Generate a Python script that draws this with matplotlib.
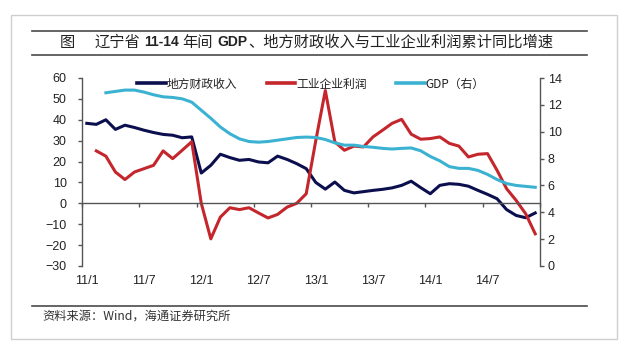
import numpy as np
import matplotlib
matplotlib.use("Agg")
import matplotlib.pyplot as plt
from matplotlib.lines import Line2D
from matplotlib.patches import Rectangle

W, H = 629, 352
CJK = ["Noto Sans CJK SC", "DejaVu Sans"]
LAT = ["Liberation Sans", "DejaVu Sans"]

# months 2011/1 .. 2014/12
MONTHS = [f"{y}/{m}" for y in range(11, 15) for m in range(1, 13)]
TICK_LABELS = ["11/1", "11/7", "12/1", "12/7", "13/1", "13/7", "14/1", "14/7"]
NAMES = ["地方财政收入", "工业企业利润", "GDP（右）"]

# 地方财政收入 (%, left axis)
FISCAL = [38.3, 37.8, 40.0, 35.4, 37.4, 36.3, 35.0, 33.9, 33.0, 32.6, 31.4, 31.8,
          14.5, 18.2, 23.5, 21.9, 20.6, 21.0, 19.8, 19.4, 22.6, 21.0, 19.0, 16.6,
          10.0, 6.8, 10.2, 6.2, 5.0, 5.6, 6.2, 6.7, 7.4, 8.6, 10.6, 7.5,
          4.6, 8.6, 9.4, 9.1, 8.2, 6.2, 4.3, 2.2, -3.0, -5.8, -6.9, -4.6]
# 工业企业利润 (%, left axis)
PROFIT = [np.nan, 25.1, 22.6, 15.0, 11.4, 15.0, 16.6, 18.2, 25.1, 21.4, 25.4, 29.5,
          0.0, -17.0, -6.6, -2.1, -3.0, -2.1, -4.6, -7.0, -5.3, -1.8, 0.0, 4.6,
          30.0, 54.0, 29.4, 25.4, 27.4, 27.0, 31.8, 35.0, 38.3, 40.2, 33.1, 30.7,
          31.0, 31.8, 28.7, 27.4, 22.2, 23.5, 23.8, 15.8, 7.0, 1.4, -5.0, -14.6]
# GDP (%, right axis)
GDP = [np.nan, np.nan, 12.9, 13.0, 13.1, 13.1, 12.95, 12.75, 12.6, 12.55, 12.45, 12.2,
       11.6, 11.0, 10.35, 9.85, 9.47, 9.27, 9.22, 9.27, 9.37, 9.47, 9.57, 9.6,
       9.57, 9.42, 9.17, 9.0, 9.0, 8.9, 8.84, 8.76, 8.71, 8.76, 8.79, 8.58,
       8.16, 7.83, 7.4, 7.27, 7.27, 7.12, 6.82, 6.44, 6.14, 6.0, 5.93, 5.86]

NAVY = "#0c0f4e"
RED = "#c4262b"
CYAN = "#3cb2d2"
INK = "#222222"


def fx(px):
    return px / W


def fy(py):
    return 1 - py / H


fig = plt.figure(figsize=(W / 100, H / 100), dpi=100)
fig.patch.set_facecolor("white")

# outer frame, title rules, footer rule
fig.patches.append(Rectangle((fx(11), fy(339)), fx(617) - fx(11), fy(15) - fy(339),
                             transform=fig.transFigure, fill=False,
                             edgecolor="#cfcfcf", linewidth=1.0))
for py in (30.5, 54.5, 306):
    fig.add_artist(Line2D([fx(32), fx(587)], [fy(py), fy(py)], color="#4a4a4a",
                          linewidth=1.2, transform=fig.transFigure))

# title: pieces laid out one after another (latin parts bold)
TY = fy(42.5)
pieces = [("图", CJK, "normal", 11, 19), ("辽宁省", CJK, "normal", 11, 4),
          ("11-14", LAT, "bold", 10, 4), ("年间", CJK, "normal", 11, 4),
          ("GDP", LAT, "bold", 10, 1),
          ("、地方财政收入与工业企业利润累计同比增速", CJK, "normal", 11, 0)]
renderer = fig.canvas.get_renderer()
cur = 60.0
for s, fam, wt, size, gap in pieces:
    t = fig.text(fx(cur), TY, s, family=fam, fontweight=wt, fontsize=size,
                 color=INK, ha="left", va="center")
    cur += t.get_window_extent(renderer).width + gap

fig.text(fx(42), fy(316), "资料来源：Wind，海通证券研究所", family=CJK,
         fontsize=8.8, color="#333333", ha="left", va="center")

ax = fig.add_axes([fx(82), fy(266), fx(540) - fx(82), fy(78) - fy(266)])
ax2 = ax.twinx()
x = np.arange(len(MONTHS))

ax.plot(x, FISCAL, color=NAVY, lw=2.2, solid_joinstyle="round")
ax.plot(x, PROFIT, color=RED, lw=2.2, solid_joinstyle="round")
ax2.plot(x, GDP, color=CYAN, lw=2.2, solid_joinstyle="round")

ax.set_xlim(-0.5, len(MONTHS) - 0.5)
ax.set_ylim(-30, 60)
ax2.set_ylim(0, 14)
ax.set_yticks(np.arange(-30, 61, 10))
ax2.set_yticks(np.arange(0, 15, 2))

for a in (ax, ax2):
    a.spines["top"].set_visible(False)
    a.patch.set_visible(False)
ax2.spines["left"].set_visible(False)
ax2.spines["bottom"].set_visible(False)
ax.spines["right"].set_visible(False)
ax.spines["bottom"].set_position(("data", 0))
for s in ("left", "bottom"):
    ax.spines[s].set_color("#555555")
    ax.spines[s].set_linewidth(1.0)
ax2.spines["right"].set_color("#555555")
ax2.spines["right"].set_linewidth(1.0)

ax.set_xticks(np.arange(-0.5, len(MONTHS), 6))
ax.set_xticklabels([])
ax.tick_params(axis="x", direction="out", length=3, width=1, color="#555555")
ax.tick_params(axis="y", direction="out", length=3, width=1, color="#555555",
               pad=8, labelsize=9, labelcolor=INK)
ax2.tick_params(axis="y", direction="out", length=3, width=1, color="#555555",
                pad=2.5, labelsize=9, labelcolor=INK)
for lab in ax.get_yticklabels() + ax2.get_yticklabels():
    lab.set_family(LAT)

for lab in TICK_LABELS:
    ax.text(MONTHS.index(lab), -0.08, lab, transform=ax.get_xaxis_transform(),
            ha="center", va="center", fontsize=9, family=LAT, color=INK)

handles = [Line2D([], [], color=c, lw=2.6) for c in (NAVY, RED, CYAN)]
leg = ax2.legend(handles, NAMES, loc="center", bbox_to_anchor=(0.5, 0.968),
                 ncol=3, frameon=False, handlelength=2.4, handletextpad=0.1,
                 columnspacing=2.5, borderpad=0, prop={"family": CJK, "size": 8.5})
for t in leg.get_texts():
    t.set_color(INK)

fig.savefig("out.png", dpi=100)
